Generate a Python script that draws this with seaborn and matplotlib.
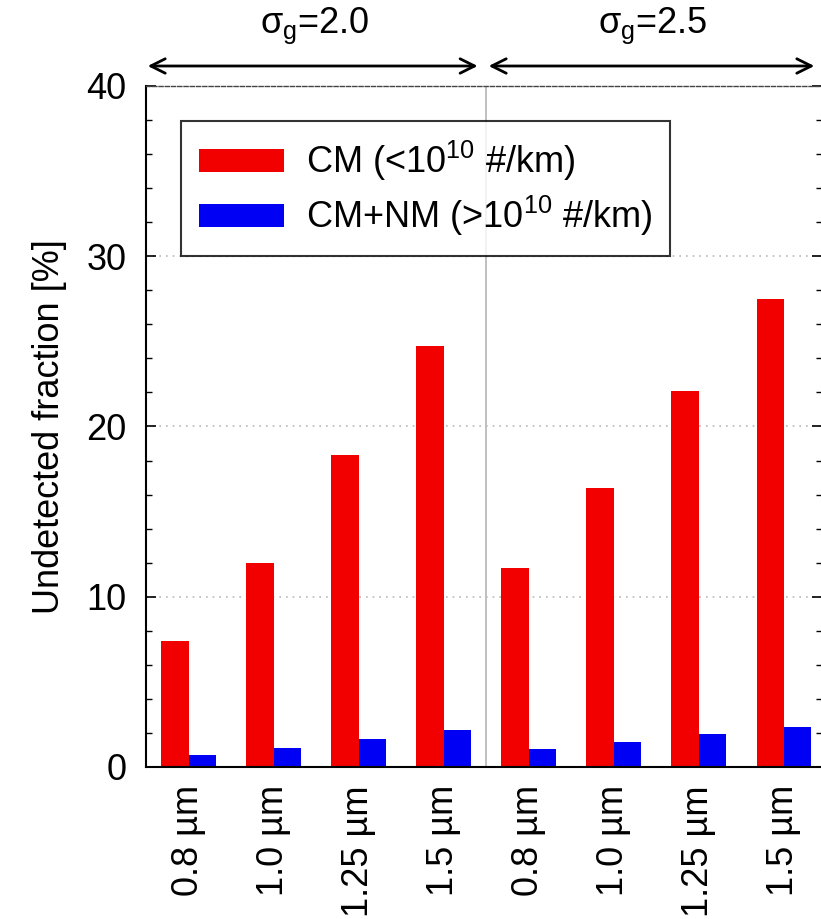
import numpy as np
import pandas as pd
import matplotlib
matplotlib.use("Agg")
import matplotlib.pyplot as plt
import matplotlib.transforms as mtransforms
from matplotlib.ticker import MultipleLocator
import seaborn as sns

# ---- data ----
sigma_groups = ["2.0", "2.0", "2.0", "2.0", "2.5", "2.5", "2.5", "2.5"]
sizes = ["0.8 µm", "1.0 µm", "1.25 µm", "1.5 µm", "0.8 µm", "1.0 µm", "1.25 µm", "1.5 µm"]
cm_values = [7.4, 12.0, 18.3, 24.7, 11.7, 16.4, 22.1, 27.5]
cmnm_values = [0.7, 1.1, 1.65, 2.2, 1.05, 1.47, 1.95, 2.37]
series_names = ["CM (<10$^{10}$ #/km)", "CM+NM (>10$^{10}$ #/km)"]
group_titles = ["σ$_\\mathregular{g}$=2.0", "σ$_\\mathregular{g}$=2.5"]
y_label = "Undetected fraction [%]"

cats = [f"{g}|{s}" for g, s in zip(sigma_groups, sizes)]
df = pd.DataFrame({
    "cat": cats * 2,
    "series": [series_names[0]] * len(cats) + [series_names[1]] * len(cats),
    "value": cm_values + cmnm_values,
})

sns.set_theme(style="white")
plt.rcParams["font.family"] = ["Liberation Sans", "DejaVu Sans"]
plt.rcParams["mathtext.fontset"] = "custom"
plt.rcParams["mathtext.rm"] = "Liberation Sans"
plt.rcParams["mathtext.it"] = "Liberation Sans"
plt.rcParams["text.color"] = "black"
plt.rcParams["axes.labelcolor"] = "black"
plt.rcParams["xtick.color"] = "black"
plt.rcParams["ytick.color"] = "black"

FS = 26
W, H = 821, 919
fig = plt.figure(figsize=(W / 100, H / 100), dpi=100)
ax = fig.add_axes([146 / W, 1 - 767 / H, (822 - 146) / W, (767 - 86) / H])

sns.barplot(data=df, x="cat", y="value", hue="series", order=cats,
            hue_order=series_names, palette=["#f20000", "#0000f5"],
            width=0.64, saturation=1, ax=ax, linewidth=0)

ax.set_xlim(-0.5, 7.45)
ax.set_ylim(0, 40)
ax.set_xlabel("")
ax.set_ylabel(y_label, fontsize=FS, labelpad=14, color="black")

ax.set_xticks(range(len(cats)))
ax.set_xticklabels(sizes, rotation=90, fontsize=FS, color="black")
offset = mtransforms.ScaledTranslation(7 / 100, 0, fig.dpi_scale_trans)
for lbl in ax.get_xticklabels():
    lbl.set_transform(lbl.get_transform() + offset)
ax.tick_params(axis="x", length=0, pad=13)

ax.yaxis.set_major_locator(MultipleLocator(10))
ax.yaxis.set_minor_locator(MultipleLocator(2))
ax.tick_params(axis="y", which="major", direction="in", length=7.5, width=1.2,
               labelsize=FS, pad=14, left=True, right=True, color="black",
               labelcolor="black")
ax.tick_params(axis="y", which="minor", direction="in", length=4.5, width=1.0,
               left=True, right=True, color="black")

# grid
for yv in [10, 20, 30]:
    ax.axhline(yv, color="#b8b8b8", lw=1.2, ls=(0, (1, 3)), zorder=0)
ax.axvline(3.5, color="#b5b5b5", lw=1.2, zorder=0)

for side in ["left", "bottom"]:
    ax.spines[side].set_color("black")
    ax.spines[side].set_linewidth(1.5)
ax.spines["right"].set_color("black")
ax.spines["top"].set_color("#444444")
ax.spines["top"].set_linewidth(1.0)
ax.spines["top"].set_linestyle((0, (3, 1.5)))

# legend
handles, labels = ax.get_legend_handles_labels()
if ax.get_legend() is not None:
    ax.get_legend().remove()
leg = ax.legend(handles, labels, loc="upper left",
                bbox_to_anchor=(181 / W, 1 - 121 / H), bbox_transform=fig.transFigure,
                borderaxespad=0, fontsize=FS, frameon=True, fancybox=False,
                handlelength=2.35, handleheight=0.58, handletextpad=0.6,
                borderpad=0.5, labelspacing=0.3)
leg.get_frame().set_edgecolor("black")
leg.get_frame().set_linewidth(1.5)
for t in leg.get_texts():
    t.set_color("black")

# group arrows and titles
arrow_y = 1 + (86 - 66) / (767 - 86)
title_y = 1 + (767 - 33 - 681) / (767 - 86)
trans = mtransforms.blended_transform_factory(ax.transData, ax.transAxes)
arrows = [(-0.48, 3.40), (3.53, 7.36)]
title_x = [1.49, 5.46]
for (x0, x1), tx, title in zip(arrows, title_x, group_titles):
    ax.annotate("", xy=(x1, arrow_y), xytext=(x0, arrow_y), xycoords=trans,
                textcoords=trans, annotation_clip=False,
                arrowprops=dict(arrowstyle="<->", lw=2, color="black",
                                mutation_scale=26, shrinkA=0, shrinkB=0))
    ax.text(tx, title_y, title, transform=trans, ha="center", va="baseline",
            fontsize=FS, clip_on=False, color="black")

fig.savefig("out.png", dpi=100)
